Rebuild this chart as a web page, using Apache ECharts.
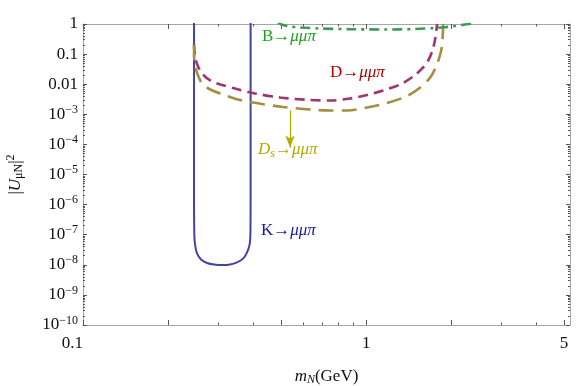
<!DOCTYPE html>
<html>
<head>
<meta charset="utf-8">
<script src="https://cdn.jsdelivr.net/npm/echarts@6/dist/echarts.min.js"></script>
<style>
  html, body { margin: 0; padding: 0; background: #fff; }
  #chart { width: 581px; height: 386px; }
</style>
</head>
<body>
<div id="chart"></div>
<script>
// m_N in GeV, |U_muN|^2
const kMass = [0.2467, 0.2467, 0.2467, 0.2473, 0.2487, 0.2528, 0.2612, 0.2743, 0.2904, 0.3099, 0.3307, 0.3500, 0.3675, 0.3797, 0.3876, 0.3902, 0.3908, 0.3908];
const kU2 = [2, 1.0, 1.48e-6, 1.02e-7, 4.7e-8, 2.4e-8, 1.5e-8, 1.15e-8, 1.02e-8, 9.8e-9, 1.02e-8, 1.2e-8, 1.6e-8, 2.6e-8, 4.7e-8, 1.02e-7, 1.48e-6, 2];

const dMass = [0.2467, 0.2487, 0.2549, 0.2656, 0.2814, 0.3055, 0.3442, 0.4055, 0.4967, 0.6342, 0.7463, 0.8780, 1.0082, 1.148, 1.318, 1.466, 1.577, 1.656, 1.710, 1.752, 1.781];
const dU2 = [0.208, 0.0832, 0.0387, 0.0210, 0.0133, 0.00977, 0.00720, 0.00491, 0.00361, 0.00299, 0.00287, 0.00335, 0.00438, 0.00618, 0.00977, 0.0180, 0.0333, 0.0613, 0.122, 0.305, 1.0];

const dsMass = [0.2467, 0.2467, 0.2487, 0.2549, 0.2635, 0.2814, 0.3124, 0.3529, 0.4290, 0.5088, 0.6342, 0.7463, 0.8567, 1.0082, 1.186, 1.396, 1.552, 1.684, 1.767, 1.826, 1.856, 1.871];
const dsU2 = [0.20, 0.0970, 0.0418, 0.0195, 0.01055, 0.00667, 0.00455, 0.00311, 0.00220, 0.00175, 0.00144, 0.00134, 0.00134, 0.00168, 0.00237, 0.00406, 0.00776, 0.0167, 0.0387, 0.0970, 0.208, 1.0];

const bMass = [0.4887, 0.5088, 0.5386, 0.5843, 0.6880, 0.8780, 1.167, 1.490, 1.753, 1.902, 2.063, 2.238, 2.370];
const bU2 = [1.12, 0.926, 0.826, 0.765, 0.709, 0.672, 0.657, 0.682, 0.736, 0.783, 0.859, 0.962, 1.04];

// arrow below the Ds curve
const arrowMass = 0.5386;
const arrowU2 = [0.00134, 7.9e-5];

// ticks
const xLabelTicks = [0.1, 1, 5];
const xMajorTicks = [0.1, 0.2, 0.5, 1, 2, 5];
const xMinorTicks = [0.3, 0.4, 0.6, 0.7, 0.8, 0.9, 3, 4];
const yDecades = [0, -1, -2, -3, -4, -5, -6, -7, -8, -9, -10];
const yMinorTicks = [];
for (let e = -10; e < 0; e++) {
  for (let k = 2; k <= 9; k++) yMinorTicks.push(Math.log10(k) + e);
}

const serif = '"Liberation Serif", "DejaVu Serif", serif';
const lg = Math.log10;
const toPts = (ms, us) => ms.map((m, i) => [lg(m), lg(us[i])]);

const xMin = -1, xMax = 0.72;
const frameColor = '#a6a6a6';
const tickColor = '#555';

function xAxisDef(pos, ticks, len, withLine, withLabels) {
  return {
    type: 'value', position: pos, min: xMin, max: xMax,
    axisLine: { show: withLine, onZero: false, lineStyle: { color: frameColor, width: 1 } },
    axisTick: { show: true, inside: true, length: len, customValues: ticks.map(lg),
      lineStyle: { color: tickColor, width: 1 } },
    axisLabel: withLabels ? {
      show: true, customValues: xLabelTicks.map(lg), margin: 10,
      fontFamily: serif, fontSize: 17, color: '#111',
      alignMinLabel: 'right',
      formatter: v => String(Math.round(Math.pow(10, v) * 10) / 10)
    } : { show: false },
    splitLine: { show: false }
  };
}

function yAxisDef(pos, ticks, len, withLine, withLabels) {
  return {
    type: 'value', position: pos, min: -10, max: 0,
    axisLine: { show: withLine, onZero: false, lineStyle: { color: frameColor, width: 1 } },
    axisTick: { show: true, inside: true, length: len, customValues: ticks,
      lineStyle: { color: tickColor, width: 1 } },
    axisLabel: withLabels ? {
      show: true, customValues: yDecades, margin: 5,
      fontFamily: serif, fontSize: 17, color: '#111',
      formatter: v => {
        const e = Math.round(v);
        if (e === 0) return '1';
        if (e === -1) return '0.1';
        if (e === -2) return '0.01';
        return '{n|10}{s|\u2212' + (-e) + '}';
      },
      rich: {
        n: { fontFamily: serif, fontSize: 17, color: '#111' },
        s: { fontFamily: serif, fontSize: 12, color: '#111', padding: [0, 0, 9, 0] }
      }
    } : { show: false },
    splitLine: { show: false }
  };
}

const xAxes = [
  xAxisDef('bottom', xMajorTicks, 5, true, true),
  xAxisDef('bottom', xMinorTicks, 2.5, false, false),
  xAxisDef('top', xMajorTicks, 5, true, false),
  xAxisDef('top', xMinorTicks, 2.5, false, false)
];
xAxes[0].name = '{i|m}{sub|N}(GeV)';
xAxes[0].nameLocation = 'middle';
xAxes[0].nameGap = 42;
xAxes[0].nameTextStyle = {
  fontFamily: serif, fontSize: 17, color: '#111',
  rich: {
    i: { fontFamily: serif, fontSize: 17, fontStyle: 'italic', color: '#111' },
    sub: { fontFamily: serif, fontSize: 12, fontStyle: 'italic', color: '#111', padding: [7, 0, 0, 0] }
  }
};

const yAxes = [
  yAxisDef('left', yDecades, 4, true, true),
  yAxisDef('left', yMinorTicks, 2, false, false),
  yAxisDef('right', yDecades, 4, true, false),
  yAxisDef('right', yMinorTicks, 2, false, false)
];
yAxes[0].name = '|{i|U}{sub|\u03bcN}|{sup|2}';
yAxes[0].nameLocation = 'middle';
yAxes[0].nameRotate = 90;
yAxes[0].nameGap = 57;
yAxes[0].nameTextStyle = {
  fontFamily: serif, fontSize: 17, color: '#111',
  rich: {
    i: { fontFamily: serif, fontSize: 17, fontStyle: 'italic', color: '#111' },
    sub: { fontFamily: serif, fontSize: 12, color: '#111', padding: [7, 0, 0, 0] },
    sup: { fontFamily: serif, fontSize: 12, color: '#111', padding: [0, 0, 9, 0] }
  }
};

function curve(name, pts, color, width, dash) {
  return {
    name, type: 'line', data: pts, xAxisIndex: 0, yAxisIndex: 0,
    showSymbol: false, smooth: 0.3, clip: true,
    lineStyle: { color, width, type: dash }
  };
}

const dsSeries = curve('Ds', toPts(dsMass, dsU2), '#a38f3d', 2.6, [15, 8]);
dsSeries.markLine = {
  silent: true, animation: false,
  symbol: ['none', 'arrow'], symbolSize: [7, 12],
  label: { show: false },
  lineStyle: { color: '#b3ac00', width: 1.3, type: 'solid' },
  data: [[
    { coord: [lg(arrowMass), lg(arrowU2[0])] },
    { coord: [lg(arrowMass), lg(arrowU2[1])] }
  ]]
};

const richLabel = (color) => ({
  r: { fontFamily: serif, fontSize: 17, color },
  i: { fontFamily: serif, fontSize: 17, fontStyle: 'italic', color },
  sub: { fontFamily: serif, fontSize: 12, fontStyle: 'italic', color, padding: [7, 0, 0, 0] }
});

function note(x, y, text, color) {
  return {
    type: 'text', x, y, silent: true,
    style: { text, rich: richLabel(color), fill: color, fontFamily: serif, fontSize: 17, verticalAlign: 'middle' }
  };
}

const option = {
  animation: false,
  backgroundColor: '#fff',
  grid: { left: 83, right: 11, top: 24, bottom: 61, containLabel: false, outerBoundsMode: 'none' },
  xAxis: xAxes,
  yAxis: yAxes,
  series: [
    curve('K', toPts(kMass, kU2), '#4343a3', 2, 'solid'),
    curve('D', toPts(dMass, dU2), '#a3336f', 2.6, [10, 6]),
    dsSeries,
    curve('B', toPts(bMass, bU2), '#3c9a56', 2.6, [10, 5, 3, 5])
  ],
  graphic: [
    note(262, 37, '{r|B\u2192}{i|\u03bc\u03bc\u03c0}', '#1fa01f'),
    note(330, 73, '{r|D\u2192}{i|\u03bc\u03bc\u03c0}', '#b00000'),
    note(258, 150, '{i|D}{sub|s}{r|\u2192}{i|\u03bc\u03bc\u03c0}', '#b3a800'),
    note(261, 231, '{r|K\u2192}{i|\u03bc\u03bc\u03c0}', '#1a1aa0')
  ]
};

const chart = echarts.init(document.getElementById('chart'));
chart.setOption(option);
</script>
</body>
</html>
